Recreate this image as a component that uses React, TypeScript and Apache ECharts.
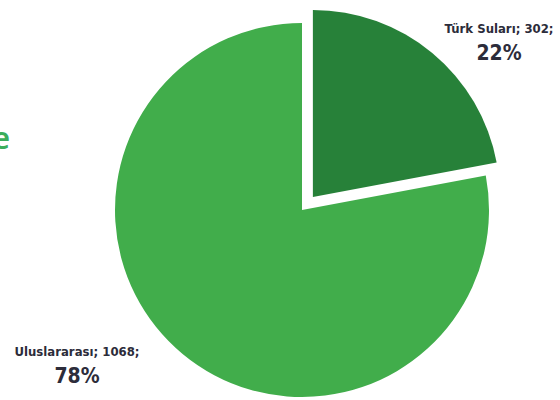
import React, { useEffect, useRef } from "react";
import * as echarts from "echarts";

const categories = ["Türk Suları", "Uluslararası"];
const values = [302, 1068];
const colors = ["#278139", "#41ad4b"];
const labelSpots = [
  [499, 28],
  [77, 351],
];

const condensed = "'DejaVu Sans Condensed', sans-serif";

export default function App() {
  const ref = useRef<HTMLDivElement>(null);
  useEffect(() => {
    if (!ref.current) return;
    const chart = echarts.init(ref.current, null, { renderer: "svg" });
    const total = values.reduce((a, b) => a + b, 0);
    const labels: any[] = [];
    categories.forEach((name, i) => {
      const [x, y] = labelSpots[i];
      labels.push({
        type: "text",
        x,
        y,
        style: {
          text: `${name}; ${values[i]};`,
          font: `bold 13px ${condensed}`,
          fill: "#2c2c3a",
          align: "center",
          verticalAlign: "middle",
        },
      });
      labels.push({
        type: "text",
        x,
        y: y + 25,
        style: {
          text: `${Math.round((values[i] / total) * 100)}%`,
          font: `bold 21px ${condensed}`,
          fill: "#2c2c3a",
          align: "center",
          verticalAlign: "middle",
        },
      });
    });
    chart.setOption({
      animation: false,
      backgroundColor: "#ffffff",
      graphic: [
        {
          type: "text",
          left: -8,
          top: 121,
          style: {
            text: "e",
            font: "600 31px 'Noto Sans'",
            fill: "#3bad5c",
          },
        },
        ...labels,
      ],
      series: [
        {
          type: "pie",
          center: [302, 210],
          radius: 187,
          startAngle: 90,
          clockwise: true,
          selectedMode: "single",
          selectedOffset: 17,
          itemStyle: { borderWidth: 0 },
          emphasis: { disabled: true },
          labelLine: { show: false },
          label: { show: false },
          data: categories.map((name, i) => ({
            name,
            value: values[i],
            selected: i === 0,
            itemStyle: { color: colors[i] },
          })),
        },
      ],
    });
    return () => chart.dispose();
  }, []);
  return (
    <div
      ref={ref}
      style={{ position: "fixed", left: 0, top: 0, width: 560, height: 400 }}
    />
  );
}
